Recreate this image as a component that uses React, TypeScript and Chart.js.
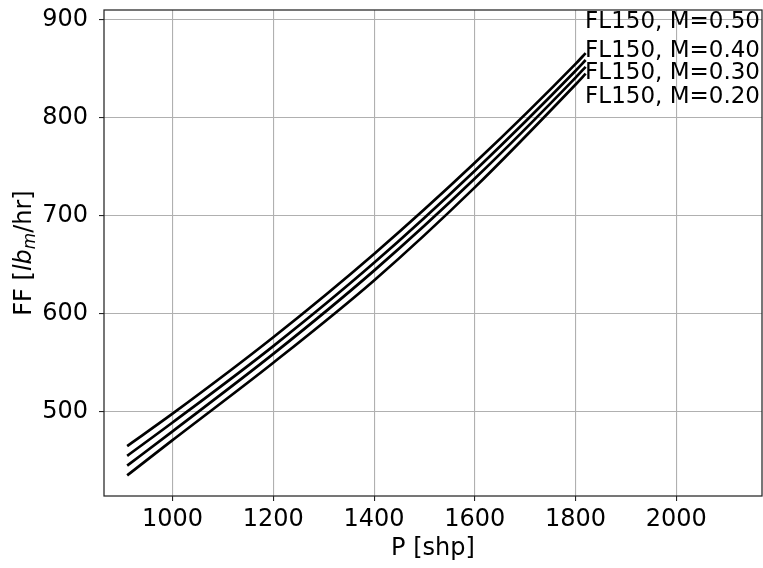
import React, { useEffect, useRef } from "react";
import { Chart, registerables } from "chart.js";

Chart.register(...registerables);

// Shaft power [shp]
const powerShp = [910, 1000, 1200, 1400, 1600, 1800, 1820];
// Fuel flow [lbm/hr] for each Mach number at FL150
const ffM050 = [465, 498, 576, 661, 754, 855, 866];
const ffM040 = [455, 489, 567, 652, 746, 848, 859];
const ffM030 = [445, 480, 559, 644, 738, 841, 852];
const ffM020 = [435, 471, 550, 634, 729, 834, 845];
const seriesLabels = ["FL150, M=0.50", "FL150, M=0.40", "FL150, M=0.30", "FL150, M=0.20"];
const xTicks = [1000, 1200, 1400, 1600, 1800, 2000];
const yTicks = [500, 600, 700, 800, 900];
const xLabel = "P [shp]";

const FONT = '"DejaVu Sans", "Liberation Sans", sans-serif';
const FS = 24;
const LEG_FS = 23;

const decorPlugin = {
  id: "decor",
  afterDraw(chart: any) {
    const { ctx, chartArea: a } = chart;
    ctx.save();
    // full box frame
    ctx.strokeStyle = "#262626";
    ctx.lineWidth = 1.25;
    ctx.strokeRect(a.left, a.top, a.right - a.left, a.bottom - a.top);

    // labels at top right
    ctx.fillStyle = "#000";
    ctx.font = `${LEG_FS}px ${FONT}`;
    ctx.textAlign = "right";
    ctx.textBaseline = "middle";
    const offs = [12.5, 41, 63.5, 87];
    seriesLabels.forEach((t, i) => ctx.fillText(t, a.right - 2, a.top + offs[i]));

    // x axis title
    ctx.font = `${FS}px ${FONT}`;
    ctx.textAlign = "center";
    ctx.fillText(xLabel, (a.left + a.right) / 2, a.bottom + 53);

    // y axis title with math-style subscript
    const segs = [
      { t: "FF [", f: `${FS}px ${FONT}`, dy: 0 },
      { t: "lb", f: `italic ${FS}px ${FONT}`, dy: 0 },
      { t: "m", f: `italic ${FS * 0.7}px ${FONT}`, dy: 4 },
      { t: "/hr]", f: `${FS}px ${FONT}`, dy: 0 },
    ];
    let total = 0;
    const widths = segs.map((s) => {
      ctx.font = s.f;
      const w = ctx.measureText(s.t).width;
      total += w;
      return w;
    });
    ctx.translate(22, (a.top + a.bottom) / 2);
    ctx.rotate(-Math.PI / 2);
    ctx.textAlign = "left";
    ctx.textBaseline = "alphabetic";
    let x = -total / 2;
    segs.forEach((s, i) => {
      ctx.font = s.f;
      ctx.fillText(s.t, x, 9 + s.dy);
      x += widths[i];
    });
    ctx.restore();
  },
};

function noPad(s: any) {
  s.paddingTop = 0;
  s.paddingBottom = 0;
  s.paddingLeft = 0;
  s.paddingRight = 0;
}

export default function App() {
  const ref = useRef<HTMLCanvasElement | null>(null);

  useEffect(() => {
    if (!ref.current) return;
    const series = [ffM050, ffM040, ffM030, ffM020];
    const chart = new Chart(ref.current, {
      type: "line",
      data: {
        datasets: series.map((vals, i) => ({
          label: seriesLabels[i],
          data: powerShp.map((p, j) => ({ x: p, y: vals[j] })),
          borderColor: "#000",
          borderWidth: 2.7,
          pointRadius: 0,
          fill: false,
          cubicInterpolationMode: "monotone" as const,
        })),
      },
      options: {
        responsive: false,
        animation: false,
        devicePixelRatio: 1,
        layout: { padding: { top: 10, right: 1, left: 0, bottom: 0 } },
        plugins: { legend: { display: false }, tooltip: { enabled: false } },
        scales: {
          x: {
            type: "linear",
            min: 864,
            max: 2170,
            afterFit(s: any) {
              s.height = 72;
              noPad(s);
            },
            afterBuildTicks(s: any) {
              s.ticks = xTicks.map((v) => ({ value: v }));
            },
            border: { display: false },
            grid: { color: "#b0b0b0", lineWidth: 1.1, tickLength: 5, tickColor: "#262626" },
            ticks: {
              font: { family: FONT, size: FS },
              color: "#000",
              padding: 4,
              maxRotation: 0,
              autoSkip: false,
              callback: (v: any) => String(v),
            },
          },
          y: {
            type: "linear",
            min: 414,
            max: 910,
            afterFit(s: any) {
              s.width = 104;
              noPad(s);
            },
            afterBuildTicks(s: any) {
              s.ticks = yTicks.map((v) => ({ value: v }));
            },
            border: { display: false },
            grid: { color: "#b0b0b0", lineWidth: 1.1, tickLength: 5, tickColor: "#262626" },
            ticks: {
              font: { family: FONT, size: FS },
              color: "#000",
              padding: 11,
              autoSkip: false,
              callback: (v: any) => String(v),
            },
          },
        },
      },
      plugins: [decorPlugin],
    });
    return () => chart.destroy();
  }, []);

  return (
    <div style={{ position: "absolute", left: 0, top: 0, width: 763, height: 568, background: "#fff" }}>
      <canvas ref={ref} width={763} height={568} />
    </div>
  );
}
